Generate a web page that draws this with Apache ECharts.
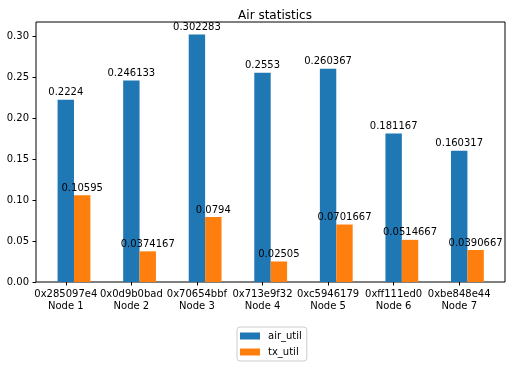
<!DOCTYPE html>
<html>
<head>
<meta charset="utf-8">
<script src="https://cdn.jsdelivr.net/npm/echarts@6/dist/echarts.min.js"></script>
<style>html,body{margin:0;padding:0;background:#fff}#c{width:512px;height:368px}</style>
</head>
<body>
<div id="c"></div>
<script>
const categories = ['0x285097e4\nNode 1','0x0d9b0bad\nNode 2','0x70654bbf\nNode 3','0x713e9f32\nNode 4','0xc5946179\nNode 5','0xff111ed0\nNode 6','0xbe848e44\nNode 7'];
const airUtil = [0.2224, 0.246133, 0.302283, 0.2553, 0.260367, 0.181167, 0.160317];
const txUtil = [0.10595, 0.0374167, 0.0794, 0.02505, 0.0701667, 0.0514667, 0.0390667];
const yTicks = [0, 0.05, 0.10, 0.15, 0.20, 0.25, 0.30];
const yMax = 0.3174;

const font = 'DejaVu Sans';
const chart = echarts.init(document.getElementById('c'), null, {renderer: 'canvas'});
const barLabel = {show: true, position: 'top', distance: 2, color: '#000', fontFamily: font, fontSize: 10};
chart.setOption({
  animation: false,
  title: {text: 'Air statistics', left: 270, top: 5, textAlign: 'center',
    textStyle: {fontFamily: font, fontSize: 12, fontWeight: 'normal', color: '#000'}},
  legend: {
    data: ['air_util', 'tx_util'], orient: 'vertical', left: 237, top: 327,
    icon: 'rect', itemWidth: 20, itemHeight: 7, itemGap: 6,
    padding: [4, 5, 4, 3], borderColor: '#ccc', borderWidth: 1, borderRadius: 3,
    textStyle: {fontFamily: font, fontSize: 10, color: '#000', padding: [0, 0, 0, 3]}
  },
  grid: [
    {left: 36, right: 7, top: 22, bottom: 86, show: true, borderColor: '#000', borderWidth: 1, backgroundColor: 'transparent'},
    {left: 33, right: 20, top: 22, bottom: 86}
  ],
  xAxis: [
    {gridIndex: 0, type: 'category', data: categories, show: false},
    {gridIndex: 1, type: 'category', data: categories,
      axisLine: {show: false},
      axisTick: {show: true, alignWithLabel: true, length: 3.5, lineStyle: {color: '#000'}},
      axisLabel: {fontFamily: font, fontSize: 10, color: '#000', margin: 6, lineHeight: 12, interval: 0}}
  ],
  yAxis: [
    {gridIndex: 0, type: 'value', min: 0, max: yMax, interval: 0.05,
      splitLine: {show: false}, axisLine: {show: false},
      axisTick: {show: true, length: 3.5, lineStyle: {color: '#000'}},
      axisLabel: {fontFamily: font, fontSize: 10, color: '#000', margin: 7,
        showMaxLabel: false, formatter: v => yTicks.some(t => Math.abs(t - v) < 1e-9) ? v.toFixed(2) : ''}},
    {gridIndex: 1, type: 'value', min: 0, max: yMax, show: false, splitLine: {show: false}}
  ],
  series: [
    {name: 'pad', type: 'bar', xAxisIndex: 1, yAxisIndex: 1, data: categories.map(() => '-'), barWidth: 16.4, barGap: 0, silent: true},
    {name: 'air_util', type: 'bar', xAxisIndex: 1, yAxisIndex: 1, data: airUtil, barWidth: 16.4, barGap: 0,
      itemStyle: {color: '#1f77b4'}, label: barLabel},
    {name: 'tx_util', type: 'bar', xAxisIndex: 1, yAxisIndex: 1, data: txUtil, barWidth: 16.4, barGap: 0,
      itemStyle: {color: '#ff7f0e'}, label: barLabel}
  ]
});
</script>
</body>
</html>
